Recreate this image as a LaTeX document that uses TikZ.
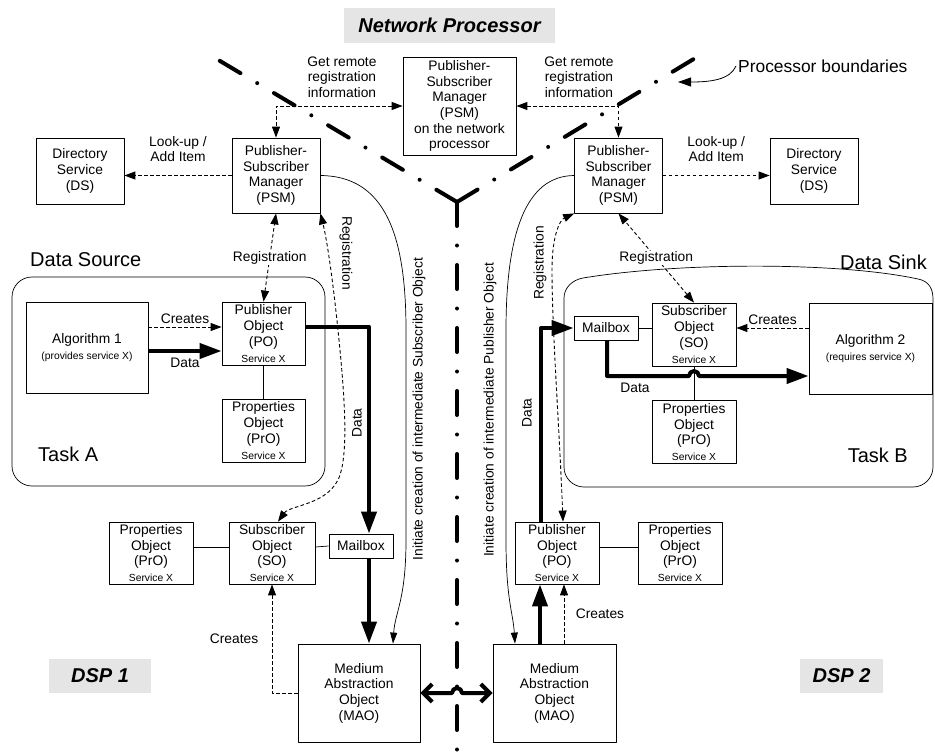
\documentclass[tikz,border=0pt]{standalone}
\usepackage{fontspec}
\setmainfont{Liberation Sans}
\usetikzlibrary{arrows.meta}
\definecolor{taggray}{gray}{0.9}
\newcommand\boxsize{\fontsize{13.8}{15.7}\selectfont}
\newcommand\smallsize{\fontsize{10.3}{11.5}\selectfont}
\newcommand\bigsize{\fontsize{20}{24}\selectfont}

\begin{document}
\begin{tikzpicture}[x=1pt, y=1pt, font=\boxsize, line join=round,
	box/.style={draw, line width=0.8pt, align=center, inner sep=0pt},
	tag/.style={fill=taggray, font=\bigsize\bfseries\itshape, inner sep=0pt},
	lbl/.style={align=center, inner sep=1pt},
	thin/.style={line width=0.7pt},
	dasharr/.style={line width=0.9pt, dash pattern=on 3.5pt off 2.5pt, -{Triangle[length=11pt,width=8pt]}},
	dashboth/.style={line width=0.9pt, dash pattern=on 3.5pt off 2.5pt, {Triangle[length=11pt,width=8pt]}-{Triangle[length=11pt,width=8pt]}},
	thinarr/.style={line width=0.7pt, -{Triangle[length=11pt,width=7pt]}},
	datarr/.style={line width=4pt, -{Triangle[length=22pt,width=15pt]}},
	boundary/.style={line width=4pt, line cap=round, dash pattern=on 24pt off 19.5pt on 0pt off 19.5pt}]
	\useasboundingbox (0,0) rectangle (935,-755);
	% processor boundaries
	\coordinate (yc) at (457,-202);
	\draw[boundary] (yc) -- (215,-58);
	\draw[boundary] (yc) -- (697,-57);
	\draw[boundary] (yc) -- (457,-755);
	% tasks
	\draw[thin, rounded corners=20pt] (12,-277) rectangle (325,-486);
	\draw[thin] (583,-278) .. controls (680,-262) and (840,-262) .. (918,-279) .. controls (929,-281) and (933,-289) .. (933,-299) -- (933,-467) arc[start angle=0, end angle=-90, radius=20] -- (584,-487) arc[start angle=270, end angle=180, radius=20] -- (564,-298) .. controls (564,-288) and (572,-280) .. (583,-278);
	\node[tag, minimum width=211, minimum height=35] (np) at (449.5,-25.5) {Network Processor};
	\node[tag, minimum width=102, minimum height=34] (dsp1) at (100,-676) {DSP 1};
	\node[tag, minimum width=83, minimum height=34] (dsp2) at (841.5,-676) {DSP 2};
	\node[font=\fontsize{17.4}{20}\selectfont, anchor=west, inner sep=0pt] (pb) at (738,-66) {Processor boundaries};
	\node[font=\bigsize, anchor=west, inner sep=0pt] (srcA) at (30,-260) {Data Source};
	\node[font=\bigsize, anchor=east, inner sep=0pt] (snkB) at (927,-262) {Data Sink};
	\node[font=\bigsize, anchor=west, inner sep=0pt] (tskA) at (38,-454) {Task A};
	\node[font=\bigsize, anchor=east, inner sep=0pt] (tskB) at (908,-455) {Task B};
	% managers and directories
	\node[box, minimum width=113, minimum height=98] (psmN) at (459.5,-106) {Publisher-\\Subscriber\\Manager\\(PSM)\\on the network\\processor};
	\node[box, minimum width=88, minimum height=75] (psmL) at (276,-175.5) {Publisher-\\Subscriber\\Manager\\(PSM)};
	\node[box, minimum width=88, minimum height=75] (psmR) at (618.5,-175.5) {Publisher-\\Subscriber\\Manager\\(PSM)};
	\node[box, minimum width=88, minimum height=66] (dsL) at (80,-171) {Directory\\Service\\(DS)};
	\node[box, minimum width=88, minimum height=66] (dsR) at (814,-171) {Directory\\Service\\(DS)};
	% task A
	\node[box, minimum width=122, minimum height=91] (algA) at (87,-347.5) {Algorithm 1\\{\smallsize (provides service X)}};
	\node[box, minimum width=83, minimum height=63] (poA) at (263.5,-333.5) {Publisher\\Object\\(PO)\\{\smallsize Service X}};
	\node[box, minimum width=83, minimum height=63] (proA) at (263.5,-430.5) {Properties\\Object\\(PrO)\\{\smallsize Service X}};
	% task B
	\node[box, minimum width=64, minimum height=24] (mbB) at (606,-328) {Mailbox};
	\node[box, minimum width=84, minimum height=63] (soB) at (694,-334.5) {Subscriber\\Object\\(SO)\\{\smallsize Service X}};
	\node[box, minimum width=84, minimum height=63] (proB) at (694,-432) {Properties\\Object\\(PrO)\\{\smallsize Service X}};
	\node[box, minimum width=123, minimum height=91] (algB) at (870.5,-348.5) {Algorithm 2\\{\smallsize (requires service X)}};
	% DSP 1
	\node[box, minimum width=84, minimum height=62] (proL) at (151,-553) {Properties\\Object\\(PrO)\\{\smallsize Service X}};
	\node[box, minimum width=86, minimum height=62] (soL) at (272,-553) {Subscriber\\Object\\(SO)\\{\smallsize Service X}};
	\node[box, minimum width=64, minimum height=24] (mbL) at (361,-546) {Mailbox};
	\node[box, minimum width=122, minimum height=98] (maoL) at (359,-693) {Medium\\Abstraction\\Object\\(MAO)};
	% DSP 2
	\node[box, minimum width=123, minimum height=98] (maoR) at (554.5,-693) {Medium\\Abstraction\\Object\\(MAO)};
	\node[box, minimum width=84, minimum height=62] (poR) at (557,-553) {Publisher\\Object\\(PO)\\{\smallsize Service X}};
	\node[box, minimum width=84, minimum height=62] (proR) at (680,-553) {Properties\\Object\\(PrO)\\{\smallsize Service X}};
	% connectors
	\draw[line width=0.8pt, -{Triangle[length=13pt,width=9pt]}] ([xshift=-2pt]pb.west) .. controls (730,-80) and (710,-82) .. (678,-82);
	\draw[dasharr] (psmL.west) -- (psmL.west -| dsL.east) node[midway, above=12pt, lbl]{Look-up /\\Add Item};
	\draw[dasharr] (psmR.east) -- (psmR.east -| dsR.west) node[midway, above=12pt, lbl]{Look-up /\\Add Item};
	\draw[dashboth] (psmN.west) -| (psmL.north);
	\draw[dashboth] (psmN.east) -| (psmR.north);
	\node[lbl] at (342,-77) {Get remote\\registration\\information};
	\node[lbl] at (579,-77) {Get remote\\registration\\information};
	\draw[dashboth] (poA.north) -- node[lbl, fill=white]{Registration} (psmL.south);
	\draw[dashboth] (soB.north) -- node[lbl, fill=white]{Registration} (psmR.south);
	\draw[dasharr] ([yshift=20.5pt]algA.east) -- ([yshift=20.5pt]algA.east -| poA.west) node[midway, above]{Creates};
	\draw[datarr] ([yshift=-3.5pt]algA.east) -- ([yshift=-3.5pt]algA.east -| poA.west) node[midway, below=2pt]{Data};
	\draw[thin] (poA.south) -- (proA.north);
	\draw[datarr] ([yshift=7pt]poA.east) -| ([xshift=8pt]mbL.north);
	\draw[datarr] ([xshift=8pt]mbL.south) -- ([xshift=8pt]mbL.south |- maoL.north);
	\node[rotate=90] at (357,-423) {Data};
	\draw[thin] ([yshift=6pt]proL.east) -- ([yshift=6pt]soL.west);
	\draw[thin] ([yshift=6pt]soL.east) -- (mbL.west);
	\draw[dasharr] (maoL.west) -| (soL.south) node[pos=0.75, left=10pt]{Creates};
	\draw[datarr] ([xshift=-14.5pt]maoR.north) -- ([xshift=-14.5pt]maoR.north |- poR.south);
	\draw[dasharr] ([xshift=9.5pt]maoR.north) -- ([xshift=9.5pt]maoR.north |- poR.south) node[midway, right=8pt]{Creates};
	\draw[thin] ([yshift=6pt]poR.east) -- ([yshift=6pt]proR.west);
	\draw[datarr] ([xshift=-16pt]poR.north) |- (mbB.west);
	\node[rotate=90] at (527,-413) {Data};
	\draw[dasharr] ([yshift=20.5pt]algB.west) -- ([yshift=20.5pt]algB.west -| soB.east) node[midway, above]{Creates};
	\draw[thin] (mbB.east) -- (mbB.east -| soB.west);
	\draw[thin] (soB.south) -- (proB.north);
	\draw[datarr] ([xshift=1pt]mbB.south) |- (689,-376) arc[start angle=180, end angle=0, radius=5] -- ([yshift=-27.5pt]algB.west);
	\node at (635,-388) {Data};
	\draw[thinarr] (psmL.east) .. controls (385,-176) and (406,-235) .. (406,-330) -- (406,-540) .. controls (406,-600) and (395,-612) .. ([xshift=34pt]maoL.north);
	\node[rotate=90] at (419,-409) {Initiate creation of intermediate Subscriber Object};
	\draw[thinarr] (psmR.west) .. controls (525,-176) and (506,-235) .. (506,-330) -- (506,-540) .. controls (506,-600) and (513,-612) .. ([xshift=-39.5pt]maoR.north);
	\node[rotate=90] at (490,-410) {Initiate creation of intermediate Publisher Object};
	\draw[dashboth] ([xshift=6pt]soL.north) .. controls (290,-505) and (330,-505) .. (340,-475) .. controls (348,-450) and (345,-400) .. (339,-340) .. controls (333,-280) and (327,-240) .. (psmL.south east);
	\node[rotate=-90] at (346,-253) {Registration};
	\draw[dashboth] ([xshift=6pt]poR.north) .. controls (559,-420) and (552,-330) .. (552,-270) .. controls (552,-235) and (560,-220) .. (psmR.south west);
	\node[rotate=90] at (540,-263) {Registration};
	\draw[line width=4pt, {Straight Barb[length=9pt,width=18pt]}-{Straight Barb[length=9pt,width=18pt]}] (maoL.east) -- (452,-693) arc[start angle=180, end angle=0, radius=5] -- (maoR.west);
\end{tikzpicture}
\end{document}
